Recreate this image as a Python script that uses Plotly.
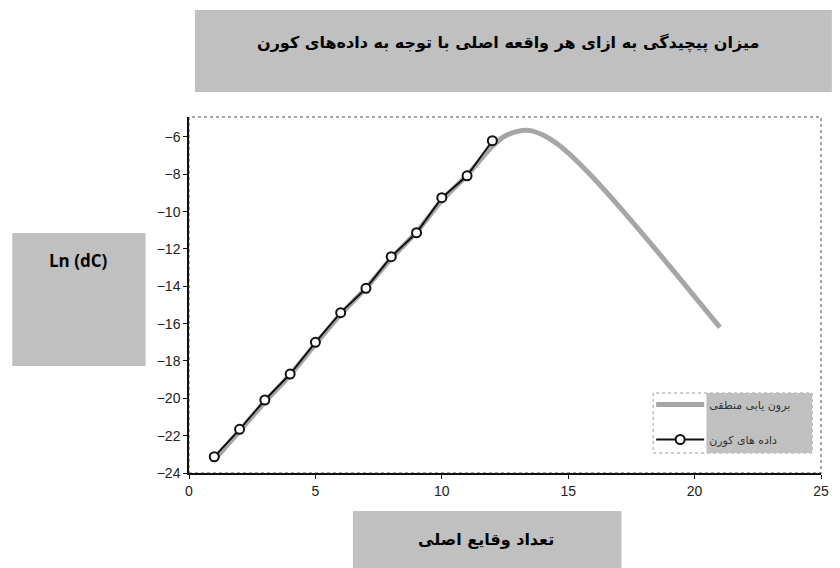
import plotly.graph_objects as go

# Observed data (black markers)
events = [1, 2, 3, 4, 5, 6, 7, 8, 9, 10, 11, 12]
ln_dc = [-23.13, -21.66, -20.09, -18.70, -17.0, -15.41, -14.11, -12.41, -11.13, -9.25, -8.08, -6.20]

# Extrapolated curve (thick grey)
fit_x = [1, 2, 3, 4, 5, 6, 7, 8, 9, 10, 11, 12, 12.5, 13, 13.5, 14, 14.5, 15, 15.5, 16,
         17, 18, 19, 20, 21]
fit_y = [-23.3, -21.75, -20.2, -18.75, -17.1, -15.5, -14.1, -12.5, -11.1, -9.4, -8.05, -6.5,
         -5.95, -5.7, -5.66, -5.9, -6.3, -6.85, -7.5, -8.2,
         -9.7, -11.28, -12.9, -14.55, -16.2]

x_ticks = [0, 5, 10, 15, 20, 25]
y_ticks = [-24, -22, -20, -18, -16, -14, -12, -10, -8, -6]

title_text = "میزان پیچیدگی به ازای هر واقعه اصلی با توجه به داده‌های کورن"
x_title = "تعداد وقایع اصلی"
y_title = "Ln (dC)"
fit_name = "برون یابی منطقی"
data_name = "داده های کورن"

W, H = 840, 568
L, R, T, B = 189, 829, 117, 473


def px(x):
    return (x - L) / (R - L)


def py(y):
    return (B - y) / (B - T)


fig = go.Figure()
fig.add_trace(go.Scatter(
    x=fit_x, y=fit_y, mode="lines", name=fit_name, legendgroup="a",
    line=dict(color="#a6a6a6", width=5, shape="spline", smoothing=0.6),
))
fig.add_trace(go.Scatter(
    x=events, y=ln_dc, mode="lines+markers", name=data_name, legendgroup="b",
    line=dict(color="#111111", width=2),
    marker=dict(symbol="circle", size=9, color="white", line=dict(color="#111111", width=2)),
))

grey = "#c0c0c0"
shapes = [
    # plot frame
    dict(type="rect", xref="paper", yref="paper", x0=0, x1=1, y0=0, y1=1,
         line=dict(color="#888888", width=1.5, dash="dot"), layer="below"),
    # header box
    dict(type="rect", xref="paper", yref="paper", x0=px(195), x1=px(840), y0=py(92), y1=py(10),
         fillcolor=grey, line=dict(width=0)),
    # y title box
    dict(type="rect", xref="paper", yref="paper", x0=px(10), x1=px(145), y0=py(366), y1=py(233),
         fillcolor=grey, line=dict(width=0)),
    # x title box
    dict(type="rect", xref="paper", yref="paper", x0=px(355), x1=px(627), y0=py(568), y1=py(511),
         fillcolor=grey, line=dict(width=0)),
    # legend frame and text panel
    dict(type="rect", xref="paper", yref="paper", x0=px(659), x1=px(820), y0=py(453), y1=py(393),
         fillcolor="white", line=dict(color="#999999", width=1, dash="dot")),
    dict(type="rect", xref="paper", yref="paper", x0=px(713), x1=px(820), y0=py(453), y1=py(393),
         fillcolor=grey, line=dict(width=0)),
]

annotations = [
    dict(text=f"<b>{title_text}</b>", xref="paper", yref="paper", x=px(512), y=py(43),
         xanchor="center", yanchor="middle",
         showarrow=False, font=dict(family="DejaVu Sans", size=16, color="#000")),
    dict(text=f"<b>{y_title}</b>", xref="paper", yref="paper", x=px(77), y=py(260),
         xanchor="center", yanchor="middle",
         showarrow=False, font=dict(family="Open Sans", size=17, color="#000")),
    dict(text=f"<b>{x_title}</b>", xref="paper", yref="paper", x=px(490), y=py(539),
         xanchor="center", yanchor="middle",
         showarrow=False, font=dict(family="DejaVu Sans", size=16, color="#000")),
]

fig.update_layout(
    width=W, height=H,
    margin=dict(l=L, r=W - R, t=T, b=H - B),
    paper_bgcolor="white", plot_bgcolor="white",
    showlegend=True,
    legend=dict(x=px(657), y=py(390), xanchor="left", yanchor="top",
                bgcolor="rgba(0,0,0,0)", borderwidth=0,
                traceorder="grouped", tracegroupgap=16, itemwidth=48,
                font=dict(family="DejaVu Sans", size=11, color="#333")),
    shapes=shapes, annotations=annotations,
)
fig.update_xaxes(range=[0, 25], tickvals=x_ticks, showgrid=False, zeroline=False,
                 showline=True, linecolor="#111", linewidth=1.5,
                 ticks="outside", ticklen=4, tickcolor="#111",
                 tickfont=dict(family="Liberation Sans", size=14, color="#222"))
fig.update_yaxes(range=[-24, -4.93], tickvals=y_ticks, showgrid=False, zeroline=False,
                 showline=True, linecolor="#111", linewidth=1.5,
                 ticks="outside", ticklen=4, tickcolor="#111",
                 tickfont=dict(family="Liberation Sans", size=14, color="#222"))

fig.write_html("out.html")
